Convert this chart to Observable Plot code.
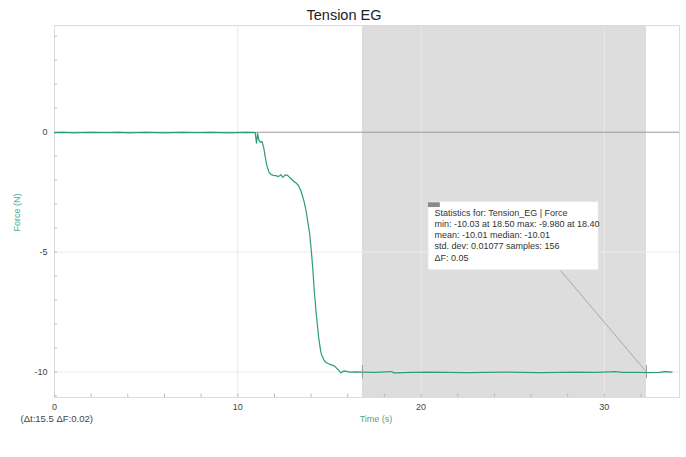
<!DOCTYPE html>
<html>
<head>
<meta charset="utf-8">
<script src="https://cdn.jsdelivr.net/npm/d3@7"></script>
<script src="https://cdn.jsdelivr.net/npm/@observablehq/plot@0.6"></script>
<style>
  html, body { margin: 0; padding: 0; background: #fff; }
  #chart svg { display: block; font-family: "Liberation Sans", Arial, sans-serif; }
</style>
</head>
<body>
<div id="chart"></div>
<script>
// Force sensor run: time (s) and force (N)
const times = [
  0, 0.5, 1.0, 1.5, 2.0, 2.5, 3.0, 3.5, 4.0, 4.5, 5.0, 5.5, 6.0, 6.5, 7.0, 7.5, 8.0, 8.5, 9.0, 9.5, 10.0, 10.5, 10.95,
  11.02, 11.08, 11.15, 11.24, 11.32, 11.41, 11.50, 11.59, 11.70, 11.82, 11.95, 12.08, 12.22, 12.35, 12.46, 12.59,
  12.72, 12.85, 12.97, 13.08, 13.19, 13.31, 13.42, 13.52, 13.62, 13.70, 13.81, 13.92, 14.01, 14.10, 14.17, 14.28,
  14.41, 14.53, 14.60, 14.70, 14.80, 14.95, 15.07, 15.19, 15.31, 15.40, 15.50, 15.62, 15.70, 15.80, 15.93, 16.10,
  16.40, 16.8, 17.5, 18.4, 18.5, 19.5, 20.5, 21.5, 22.5, 23.5, 24.5, 25.5, 26.5, 27.5, 28.5, 29.5, 30.3, 30.6,
  31.0, 32.0, 32.3, 33.0, 33.3, 33.7
];
const forces = [
  -0.02, -0.01, -0.03, -0.02, -0.01, -0.02, -0.02, -0.01, -0.03, -0.02, -0.01, -0.02, -0.03, -0.02, -0.01, -0.02, -0.02, -0.01, -0.02, -0.03, -0.02, -0.01, -0.02,
  -0.46, -0.05, -0.33, -0.42, -0.38, -0.62, -1.04, -1.39, -1.66, -1.77, -1.80, -1.81, -1.85, -1.77, -1.88, -1.78,
  -1.80, -1.90, -1.98, -2.07, -2.12, -2.22, -2.40, -2.62, -2.90, -3.17, -3.68, -4.23, -4.93, -5.76, -6.60, -7.57,
  -8.54, -9.17, -9.33, -9.50, -9.59, -9.65, -9.69, -9.72, -9.77, -9.85, -9.91, -10.03, -10.00, -9.95, -9.97, -10.00,
  -9.99, -10.00, -10.01, -9.98, -10.03, -10.01, -10.00, -10.01, -10.02, -10.01, -10.00, -10.01, -10.02, -10.01, -10.00, -10.01, -9.99, -9.98,
  -10.01, -10.01, -10.02, -10.01, -9.98, -10.00
];

// Selected region for the statistics
const selStart = 16.8;
const selEnd = 32.3;
const selForce = -10.0;

// Axis ticks
const xTickLabels = [0, 10, 20, 30];
const xMinorTicks = d3.range(0, 34, 2);
const yTickLabels = [0, -5, -10];
const yMinorTicks = d3.range(-11, 5, 1);

// Statistics readout
const statLines = [
  "Statistics for: Tension_EG | Force",
  "min: -10.03 at 18.50 max: -9.980 at 18.40",
  "mean: -10.01 median: -10.01",
  "std. dev: 0.01077 samples: 156",
  "ΔF: 0.05"
];
const statBox = {left: 20.4, right: 29.7, top: -2.9, bottom: -5.76};
const deltaText = "(Δt:15.5 ΔF:0.02)";

const xDomain = [0, 34.1];
const yDomain = [-11.06, 4.45];
const yTitlePos = -3.35;
const teal = "#2b9b7d";
const tealLabel = "#47a98f";

const data = times.map((t, i) => ({t, f: forces[i]}));

const chart = Plot.plot({
  width: 686,
  height: 457,
  marginTop: 25,
  marginBottom: 60,
  marginLeft: 54,
  marginRight: 7,
  x: {domain: xDomain, axis: null},
  y: {domain: yDomain, axis: null},
  style: {fontFamily: "Liberation Sans, Arial, sans-serif", background: "#fff"},
  marks: [
    // selection band
    Plot.rect([{a: selStart, b: selEnd}], {x1: "a", x2: "b", fill: "#dddddd"}),
    // grid
    Plot.ruleX([10, 20, 30], {stroke: "#e9e9e9", strokeWidth: 1}),
    Plot.ruleY([-5, -10], {stroke: "#ececec", strokeWidth: 1}),
    Plot.ruleY([0], {stroke: "#9a9a9a", strokeWidth: 1}),
    Plot.frame({stroke: "#dcdcdc"}),
    // minor ticks
    Plot.ruleX(xMinorTicks, {x: d => d, y1: yDomain[0], y2: yDomain[0] + 0.14, stroke: "#bbb"}),
    Plot.ruleY(yMinorTicks, {y: d => d, x1: 0, x2: 0.17, stroke: "#bbb"}),
    // tick labels
    Plot.text(xTickLabels, {x: d => d, y: yDomain[0], dy: 10, text: d => String(d), fontSize: 9, fill: "#444"}),
    Plot.text(yTickLabels, {x: 0, y: d => d, dx: -7, text: d => String(d), textAnchor: "end", fontSize: 9, fill: "#444"}),
    // axis titles
    Plot.text(["Time (s)"], {frameAnchor: "bottom", dx: 9, dy: 24, fontSize: 9, fill: tealLabel}),
    Plot.text(["Force (N)"], {x: 0, y: yTitlePos, dx: -37, rotate: -90, fontSize: 9, fill: tealLabel}),
    Plot.text([deltaText], {frameAnchor: "bottom-left", dx: -34, dy: 24, textAnchor: "start", fontSize: 9.5, fill: "#444"}),
    Plot.text(["Tension EG"], {frameAnchor: "top", dx: -23, dy: -16, fontSize: 14.5, fill: "#222"}),
    // data
    Plot.line(data, {x: "t", y: "f", stroke: teal, strokeWidth: 1.2}),
    // selection brackets
    Plot.ruleX([selStart, selEnd], {x: d => d, y1: selForce - 0.28, y2: selForce + 0.28, stroke: "#888", strokeWidth: 0.8}),
    // connector from statistics box to selection end
    Plot.link([{x1: 27.6, y1: statBox.bottom, x2: selEnd, y2: selForce}], {x1: "x1", y1: "y1", x2: "x2", y2: "y2", stroke: "#999", strokeWidth: 0.8}),
    // statistics box
    Plot.rect([statBox], {x1: "left", x2: "right", y1: "bottom", y2: "top", fill: "#fff", stroke: "#e2e2e2"}),
    Plot.rect([statBox], {x1: "left", x2: d => d.left + 0.65, y1: d => d.top - 0.24, y2: d => d.top - 0.04, fill: "#8a8a8a"}),
    Plot.text(statLines, {x: statBox.left, y: statBox.top, dx: 6, text: d => d, textAnchor: "start", lineAnchor: "top", fontSize: 9, fill: "#333"})
  ]
});

// stack the statistics lines below the tag
chart.querySelectorAll("g[aria-label=text]").forEach(g => {
  const nodes = g.querySelectorAll("text");
  if (nodes.length === statLines.length && nodes[0].textContent === statLines[0]) {
    nodes.forEach((n, i) => n.setAttribute("y", (+n.getAttribute("y") || 0) + 14 + i * 11.2));
  }
});

document.getElementById("chart").appendChild(chart);
</script>
</body>
</html>
